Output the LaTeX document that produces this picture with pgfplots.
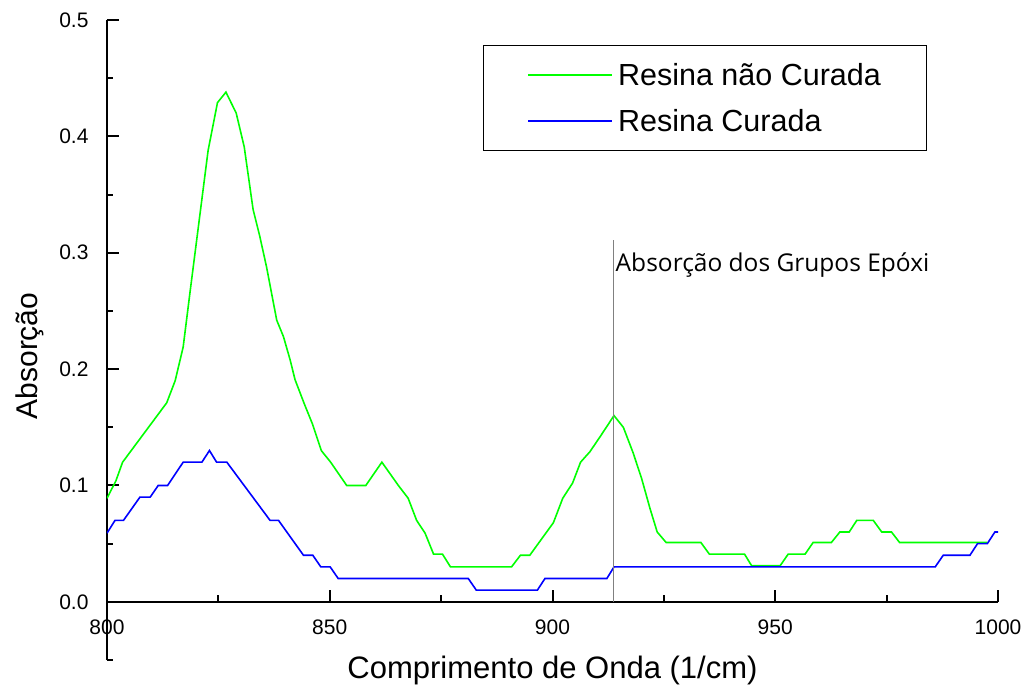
\documentclass[border=0pt]{standalone}
\usepackage{pgfplots}
\pgfplotsset{compat=1.18}
\usepackage{fontspec}
\setmainfont{Liberation Sans}
\newfontfamily\annfont{Open Sans}
\definecolor{pgreen}{RGB}{0,255,0}
\definecolor{pblue}{RGB}{0,0,255}
\begin{document}
\begin{tikzpicture}
\begin{axis}[
  scale only axis,
  width=891pt, height=640pt,
  xmin=800, xmax=1000, ymin=-0.05, ymax=0.5,
  axis x line=middle, axis y line=left,
  axis line style={-, line width=2pt, black},
  hide obscured x ticks=false, hide obscured y ticks=false,
  xtick={800,850,900,950,1000},
  minor xtick={825,875,925,975},
  ytick={0,0.1,0.2,0.3,0.4,0.5},
  minor ytick={-0.05,0.05,0.15,0.25,0.35,0.45},
  tick align=inside,
  major tick length=12pt, minor tick length=6.5pt,
  every tick/.style={black, line width=2pt},
  /pgf/number format/assume math mode=true,
  tick label style={font=\fontsize{21pt}{25pt}\selectfont},
  yticklabel style={/pgf/number format/fixed, /pgf/number format/fixed zerofill, /pgf/number format/precision=1, xshift=-15pt},
  xticklabel style={/pgf/number format/1000 sep={}, yshift=-14pt},
  xlabel={Comprimento de Onda (1/cm)},
  ylabel={Absorção},
  xlabel style={at={(rel axis cs:0.5,0)}, anchor=base, yshift=-18pt, font=\fontsize{31pt}{36pt}\selectfont},
  ylabel style={at={([xshift=-69pt]rel axis cs:0,0.475)}, anchor=base, font=\fontsize{30pt}{35pt}\selectfont},
  legend style={at={(rel axis cs:0.422,0.961)}, anchor=north west, draw=black, line width=1pt,
    font=\fontsize{30.5pt}{35pt}\selectfont, inner xsep=44pt, inner ysep=16pt, row sep=18pt,
    /tikz/every odd column/.append style={column sep=3pt}},
  legend cell align=left,
  legend image code/.code={\draw[#1] (0pt,0pt) -- (84pt,0pt);},
]
\addplot[pgreen, line width=1.6pt] coordinates {
(800,0.089) (802,0.104) (803.5,0.12) (813.4,0.171) (815.3,0.19) (817.1,0.219)
(818.6,0.265) (820.9,0.334) (822.7,0.388) (824.8,0.429) (826.7,0.438) (829.0,0.420)
(830.8,0.391) (832.8,0.337) (834.3,0.314) (835.8,0.288) (838.1,0.242) (839.6,0.228)
(841.1,0.208) (842.2,0.191) (844.3,0.170) (846.1,0.153) (848.1,0.130) (850.2,0.120)
(853.8,0.10) (858.1,0.10) (861.7,0.12) (865.4,0.10) (867.6,0.089) (869.5,0.07)
(871.4,0.059) (873.3,0.041) (875.3,0.041) (877.1,0.03) (890.8,0.03) (892.8,0.04)
(894.9,0.04) (900.2,0.068) (902.3,0.089) (904.5,0.102) (906.3,0.12) (908.4,0.129)
(910.7,0.142) (913.8,0.160) (915.9,0.150) (918.1,0.128) (920.0,0.106) (921.9,0.08)
(923.5,0.06) (925.5,0.051) (933.3,0.051) (935.2,0.041) (943.1,0.041) (944.7,0.031)
(951.1,0.031) (952.9,0.041) (956.7,0.041) (958.5,0.051) (962.6,0.051) (964.5,0.06)
(966.6,0.06) (968.3,0.07) (972.0,0.07) (973.9,0.06) (976.1,0.06) (977.9,0.051)
(997.6,0.051)
};
\addlegendentry{Resina não Curada}
\addplot[pblue, line width=1.6pt] coordinates {
(800,0.059) (801.8,0.07) (803.7,0.07) (807.4,0.09) (809.7,0.09) (811.5,0.10)
(813.6,0.10) (817.1,0.12) (821.3,0.12) (823.0,0.13) (824.6,0.12) (826.9,0.12)
(836.6,0.07) (838.5,0.07) (844.1,0.04) (846.2,0.04) (848.0,0.03) (850.1,0.03)
(851.9,0.02) (881.1,0.02) (882.9,0.01) (896.6,0.01) (898.3,0.02) (912.2,0.02)
(913.8,0.03) (985.9,0.03) (987.7,0.04) (993.7,0.04) (995.4,0.05) (997.6,0.05)
(999.3,0.06) (1000,0.06)
};
\addlegendentry{Resina Curada}
\addplot[gray, line width=1.3pt, forget plot] coordinates {(913.7,0) (913.7,0.311)};
\node[anchor=base west, inner sep=0pt, xshift=2pt, font=\annfont\fontsize{24.5pt}{29pt}\selectfont]
  at (axis cs:913.7,0.2835) {Absorção dos Grupos Epóxi};
\end{axis}
\pgfresetboundingbox
\path ([shift={(-107pt,-28pt)}]current axis.south west) rectangle ([shift={(34pt,20pt)}]current axis.north east);
\end{tikzpicture}
\end{document}
